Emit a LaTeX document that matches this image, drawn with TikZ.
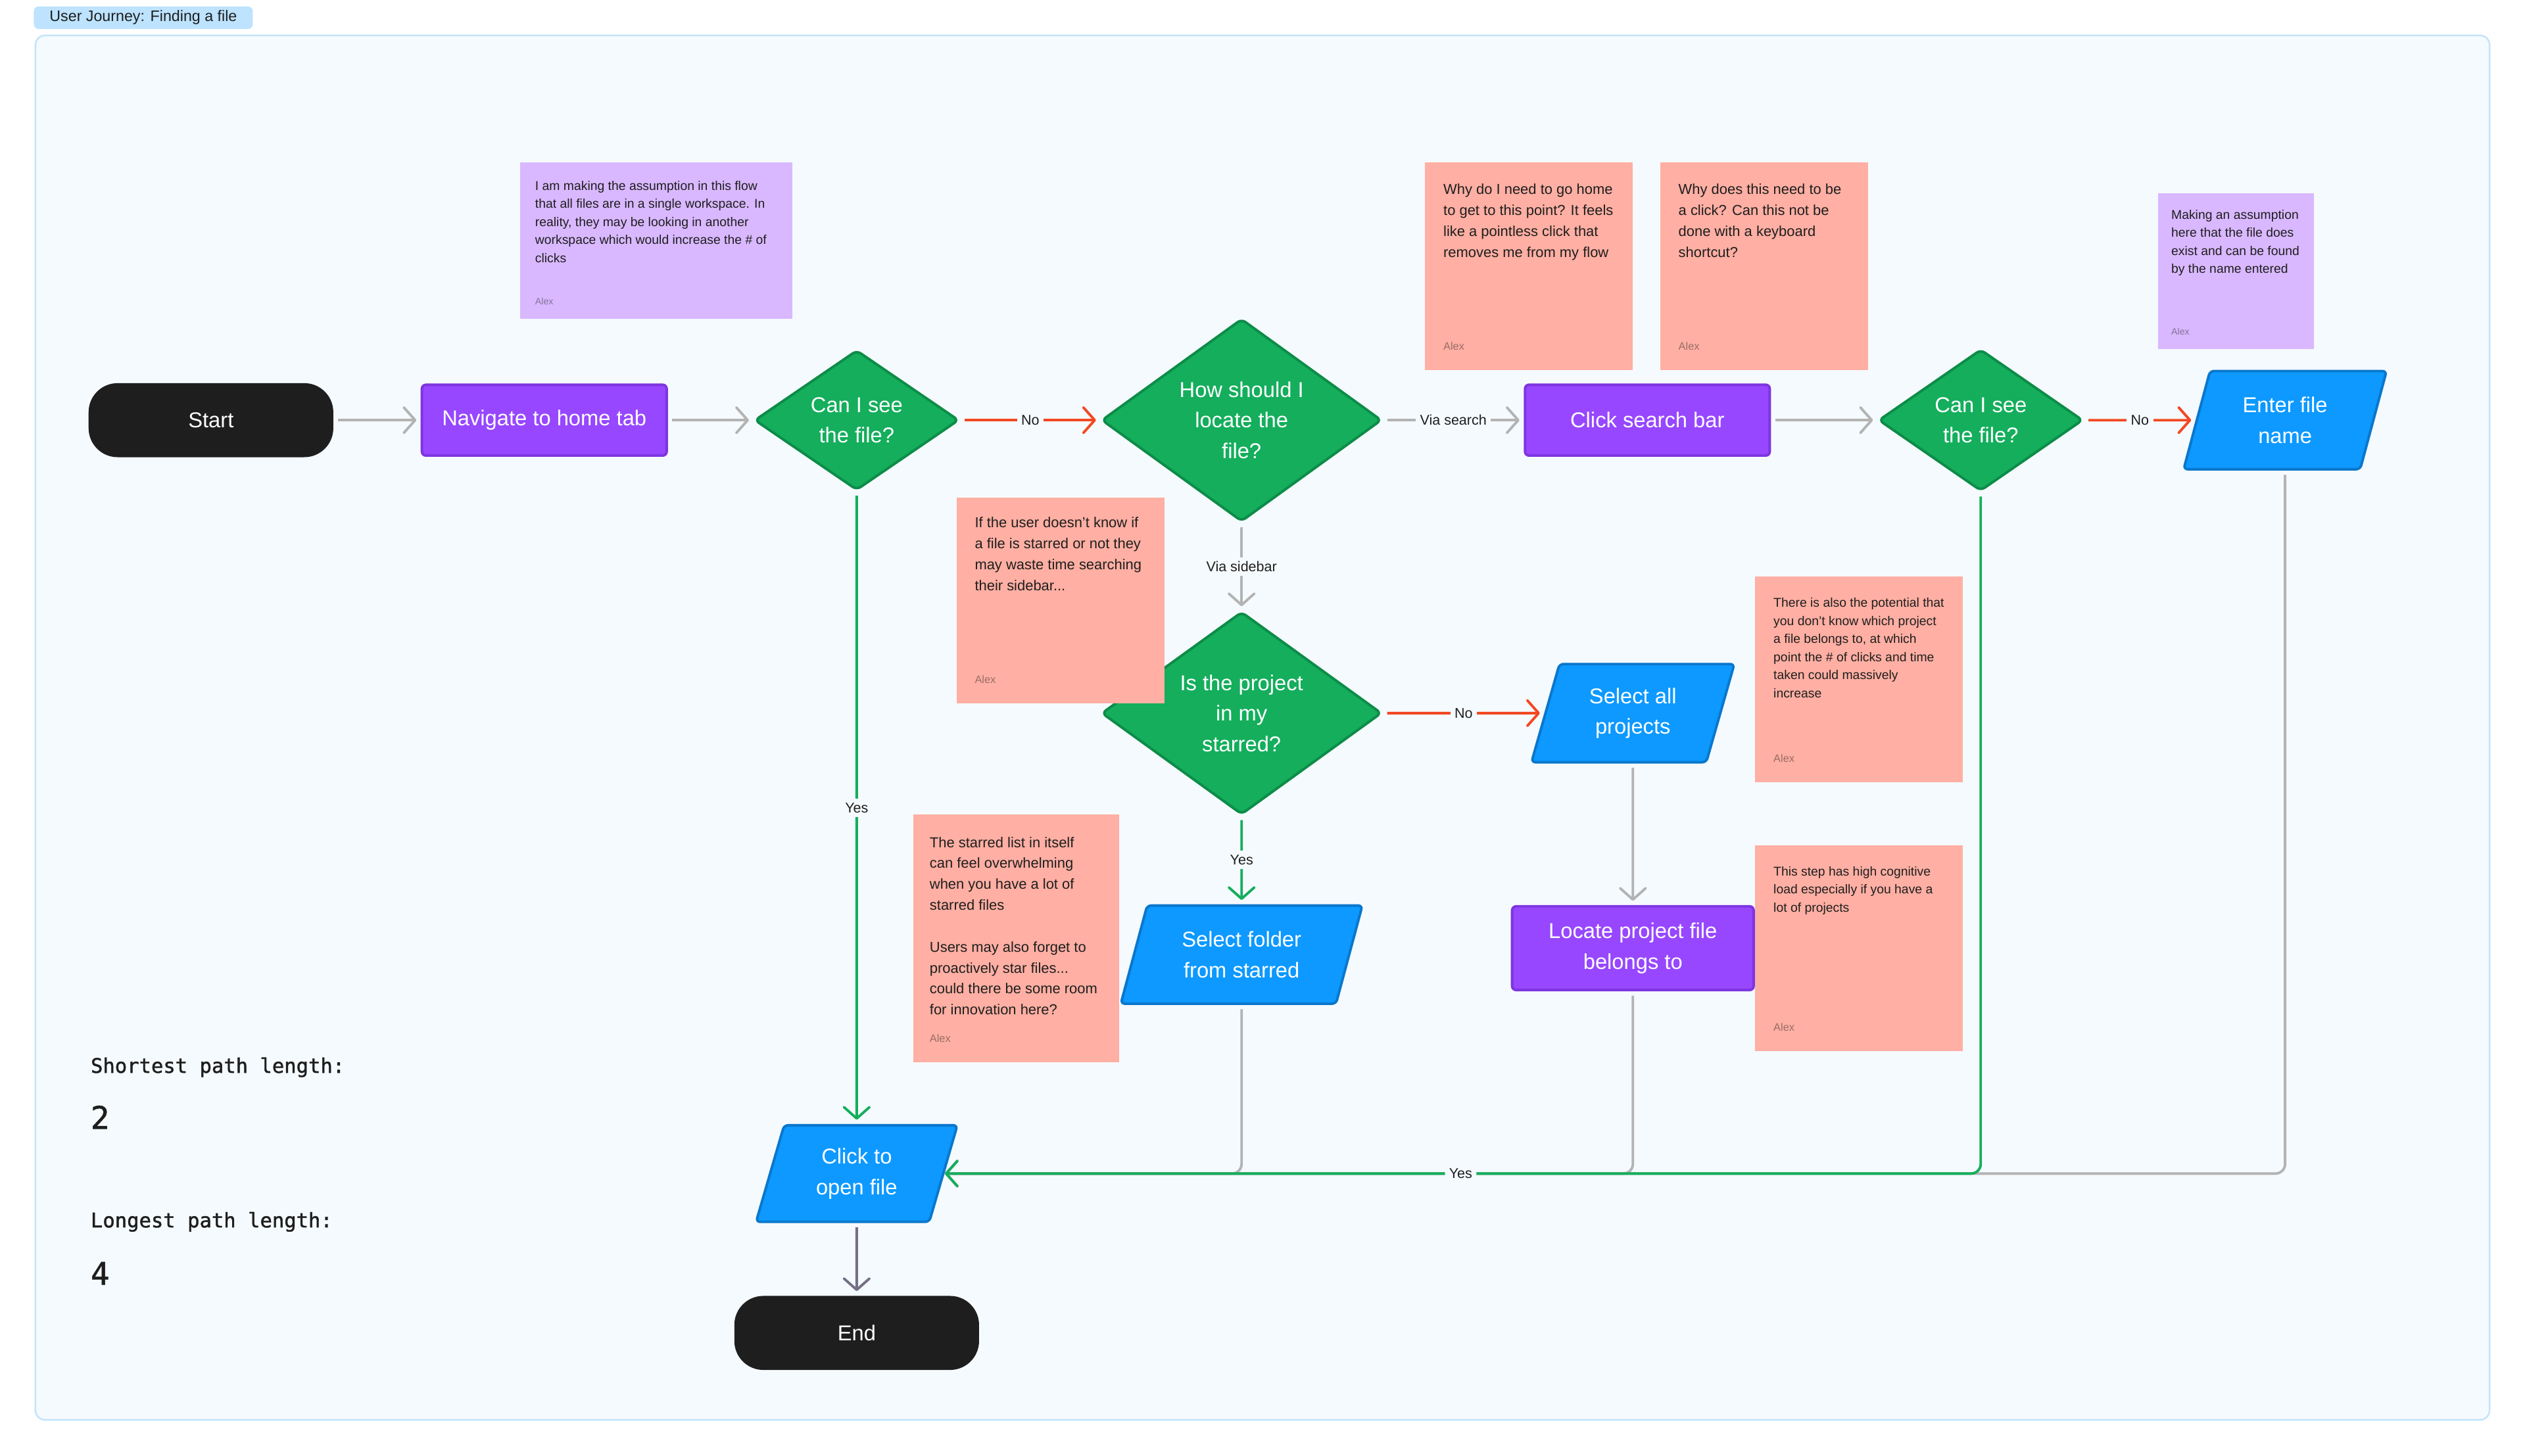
\documentclass[tikz,border=0pt]{standalone}
\usepackage{fontspec}
\setmainfont{Liberation Sans}
\setmonofont{DejaVu Sans Mono}
\newfontfamily\statfont{DejaVu Sans Mono}[FakeBold=1.4]
\usepackage{tikz}
\usetikzlibrary{arrows.meta, positioning, shapes.geometric}
\definecolor{framebg}{HTML}{F5FAFE}
\definecolor{framebd}{HTML}{C4E4FA}
\definecolor{tagblue}{HTML}{BDE3FF}
\definecolor{ink}{HTML}{1E1E1E}
\definecolor{procpurple}{HTML}{9747FF}
\definecolor{procedge}{HTML}{7E35E0}
\definecolor{decgreen}{HTML}{14AE5C}
\definecolor{decedge}{HTML}{0D8C48}
\definecolor{ioblue}{HTML}{0D99FF}
\definecolor{ioedge}{HTML}{0A77CC}
\definecolor{notered}{HTML}{FFAFA3}
\definecolor{notepurple}{HTML}{D9B8FF}
\definecolor{linegray}{HTML}{B3B3B3}
\definecolor{linered}{HTML}{F24822}
\definecolor{linegreen}{HTML}{14AE5C}
\definecolor{lineend}{HTML}{756E84}
\tikzset{
  terminal/.style={rectangle, rounded corners=0.36cm, fill=ink, text=white,
    minimum width=3.04cm, minimum height=0.92cm, font=\fontsize{7.6}{10.8}\selectfont},
  process/.style={rectangle, rounded corners=0.05cm, draw=procedge, line width=0.9pt,
    fill=procpurple, text=white, minimum width=3.04cm, minimum height=0.88cm,
    align=center, font=\fontsize{7.6}{10.8}\selectfont},
  decision/.style={diamond, rounded corners=0.06cm, draw=decedge, line width=0.9pt,
    fill=decgreen, text=white, inner sep=0pt, align=center,
    font=\fontsize{7.6}{10.8}\selectfont},
  inout/.style={trapezium, trapezium left angle=68, trapezium right angle=112,
    trapezium stretches body, rounded corners=0.05cm, draw=ioedge, line width=0.9pt,
    fill=ioblue, text=white, minimum width=2.52cm, minimum height=1.22cm,
    align=center, font=\fontsize{7.6}{10.8}\selectfont},
  flow/.style={line width=0.9pt, shorten <=1.5pt, shorten >=1.5pt,
    -{Straight Barb[length=4pt, width=9pt, round]}},
  grayflow/.style={flow, draw=linegray},
  noflow/.style={flow, draw=linered},
  yesflow/.style={flow, draw=linegreen},
  lbl/.style={fill=framebg, inner sep=1.5pt, text=ink, font=\fontsize{5}{6}\selectfont},
  notetext/.style={anchor=north west, inner sep=0pt, align=left, text=ink,
    font=\fontsize{5.1}{7.4}\selectfont},
  smallnote/.style={notetext, font=\fontsize{4.5}{6.4}\selectfont},
  author/.style={anchor=west, inner sep=0pt, text=ink, text opacity=0.45,
    font=\fontsize{3.8}{4.5}\selectfont},
  stat/.style={anchor=west, inner sep=0pt, text=ink, font=\statfont\fontsize{7.1}{8}\selectfont},
  statnum/.style={anchor=west, inner sep=0pt, text=ink, font=\statfont\fontsize{11}{12}\selectfont},
  tag/.style={rectangle, rounded corners=0.06cm, fill=tagblue, text=ink,
    minimum width=2.72cm, minimum height=0.28cm, inner sep=0pt,
    font=\fontsize{5.4}{6}\selectfont}
}
\begin{document}
\begin{tikzpicture}[x=0.02cm, y=-0.02cm]
  \fill[white] (0,0) rectangle (1568,904.45);
  \useasboundingbox (0,0) rectangle (1568,904.45);
  \draw[draw=framebd, fill=framebg, line width=0.6pt, rounded corners=0.12cm] (22,22) rectangle (1546,882);
  \node[tag] (title) at (89,11) {User Journey: Finding a file};

  \node[terminal] (start) at (131,261) {Start};
  \node[process] (home) at (338,261) {Navigate to home tab};
  \node[decision, minimum width=2.54cm, minimum height=1.74cm] (seeA) at (532,261) {Can I see\\the file?};
  \node[decision, minimum width=3.48cm, minimum height=2.52cm] (how) at (771,261) {How should I\\locate the\\file?};
  \node[process] (search) at (1023,261) {Click search bar};
  \node[decision, minimum width=2.54cm, minimum height=1.76cm] (seeB) at (1230,261) {Can I see\\the file?};
  \node[inout] (name) at (1419,261) {Enter file\\name};
  \node[decision, minimum width=3.48cm, minimum height=2.52cm] (starred) at (771,443) {Is the project\\in my\\starred?};
  \node[inout] (allproj) at (1014,443) {Select all\\projects};
  \node[process, minimum width=3.0cm, minimum height=1.04cm] (locate) at (1014,589) {Locate project file\\belongs to};
  \node[inout, minimum width=3.0cm] (folder) at (771,593) {Select folder\\from starred};
  \node[inout, minimum width=2.5cm, minimum height=1.2cm] (open) at (532,729) {Click to\\open file};
  \node[terminal] (end) at (532,828) {End};
  \coordinate (openin) at ([xshift=-0.05cm]open.east);

  \draw[grayflow] (start) -- (home);
  \draw[grayflow] (home) -- (seeA);
  \draw[noflow] (seeA) -- node[lbl] (noA) {No} (how);
  \draw[grayflow] (how) -- node[lbl] (viasearch) {Via search} (search);
  \draw[grayflow] (search) -- (seeB);
  \draw[noflow] (seeB) -- node[lbl] (noB) {No} (name);
  \draw[grayflow] (how) -- node[lbl] (viaside) {Via sidebar} (starred);
  \draw[noflow] (starred) -- node[lbl] (noC) {No} (allproj);
  \draw[grayflow] (allproj) -- (locate);
  \draw[yesflow] (starred) -- node[lbl] (yesC) {Yes} (folder);
  \draw[grayflow, rounded corners=0.12cm] (name) |- (openin);
  \draw[grayflow, rounded corners=0.12cm] (locate) |- (openin);
  \draw[grayflow, rounded corners=0.12cm] (folder) |- (openin);
  \draw[yesflow, rounded corners=0.12cm] (seeB) |- node[lbl, pos=0.75] (yesB) {Yes} (openin);
  \draw[yesflow] (seeA) -- node[lbl] (yesA) {Yes} (open);
  \draw[flow, draw=lineend] (open) -- (end);

  \fill[notepurple] (323,101) rectangle (492,198);
  \node[smallnote] (workspace) at (332,112) {I am making the assumption in this flow\\that all files are in a single workspace. In\\reality, they may be looking in another\\workspace which would increase the \# of\\clicks};
  \node[author, font=\fontsize{3.3}{4}\selectfont] (workspaceby) at (332,187) {Alex};
  \fill[notered] (885,101) rectangle (1014,230);
  \node[notetext] (gohome) at (896,114) {Why do I need to go home\\to get to this point? It feels\\like a pointless click that\\removes me from my flow};
  \node[author] (gohomeby) at (896,215) {Alex};
  \fill[notered] (1031,101) rectangle (1160,230);
  \node[notetext] (shortcut) at (1042,114) {Why does this need to be\\a click? Can this not be\\done with a keyboard\\shortcut?};
  \node[author] (shortcutby) at (1042,215) {Alex};
  \fill[notepurple] (1340,120) rectangle (1437,217);
  \node[smallnote] (exists) at (1348,130) {Making an assumption\\here that the file does\\exist and can be found\\by the name entered};
  \node[author, font=\fontsize{3.3}{4}\selectfont] (existsby) at (1348,206) {Alex};
  \fill[notered] (594,309) rectangle (723,437);
  \node[notetext] (sidebar) at (605,321) {If the user doesn't know if\\a file is starred or not they\\may waste time searching\\their sidebar...};
  \node[author] (sidebarby) at (605,422) {Alex};
  \fill[notered] (1090,358) rectangle (1219,486);
  \node[smallnote] (whichproj) at (1101,371) {There is also the potential that\\you don't know which project\\a file belongs to, at which\\point the \# of clicks and time\\taken could massively\\increase};
  \node[author] (whichprojby) at (1101,471) {Alex};
  \fill[notered] (567,506) rectangle (695,660);
  \node[notetext] (overwhelm) at (577,519.5) {The starred list in itself\\can feel overwhelming\\when you have a lot of\\starred files\\[7.4pt]Users may also forget to\\proactively star files...\\could there be some room\\for innovation here?};
  \node[author] (overwhelmby) at (577,645) {Alex};
  \fill[notered] (1090,525) rectangle (1219,653);
  \node[smallnote] (cognitive) at (1101,538) {This step has high cognitive\\load especially if you have a\\lot of projects};
  \node[author] (cognitiveby) at (1101,638) {Alex};

  \node[stat] (shortest) at (56,663) {Shortest path length:};
  \node[statnum] (shortestval) at (56,694) {2};
  \node[stat] (longest) at (56,759) {Longest path length:};
  \node[statnum] (longestval) at (56,791) {4};
\end{tikzpicture}
\end{document}
